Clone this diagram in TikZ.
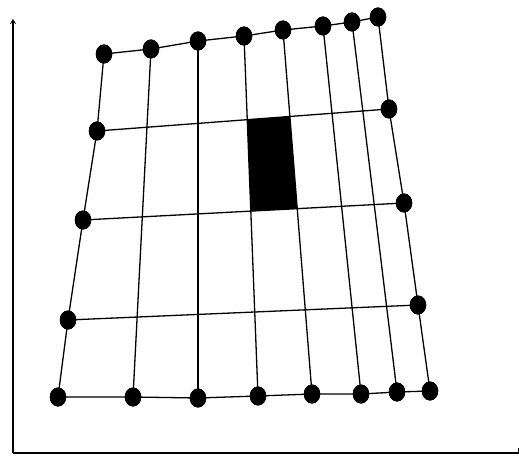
\documentclass[tikz,border=0pt]{standalone}
\usetikzlibrary{shapes.geometric,arrows.meta}
\begin{document}
\begin{tikzpicture}[x=1pt,y=-1pt,
  dot/.style={ellipse,fill=black,inner sep=0pt,minimum width=16.5pt,minimum height=19pt},
  gridline/.style={line width=1.3pt},
  axisline/.style={line width=2pt}]
\useasboundingbox (0,0) rectangle (519,457);
% axes
\coordinate (o) at (13,453);
\coordinate (ytop) at (13,19);
\coordinate (xend) at (518,453);
\draw[axisline,-{Stealth[length=5pt,width=6pt]}] (o) -- (ytop);
\draw[axisline] (o) -- (xend);
\draw[line width=1pt] (xend) ++(0,-5) -- ++(0,6);
% top row
\node[dot] (t1) at (104,54) {};
\node[dot] (t2) at (151,49) {};
\node[dot] (t3) at (198,41) {};
\node[dot] (t4) at (244,36) {};
\node[dot] (t5) at (283,30) {};
\node[dot] (t6) at (323,26) {};
\node[dot] (t7) at (352,22) {};
\node[dot] (t8) at (378,17) {};
% bottom row
\node[dot] (b1) at (58,397) {};
\node[dot] (b2) at (133,397) {};
\node[dot] (b3) at (198,398) {};
\node[dot] (b4) at (258,396) {};
\node[dot] (b5) at (312,394) {};
\node[dot] (b6) at (361,394) {};
\node[dot] (b7) at (397,392) {};
\node[dot] (b8) at (430,391) {};
% side dots
\node[dot] (l2) at (97,131) {};
\node[dot] (l3) at (83,220) {};
\node[dot] (l4) at (68,320) {};
\node[dot] (r2) at (389,109) {};
\node[dot] (r3) at (404,203) {};
\node[dot] (r4) at (418,305) {};
% filled cell
\fill (intersection of t4.center--b4.center and l2.center--r2.center)
   -- (intersection of t5.center--b5.center and l2.center--r2.center)
   -- (intersection of t5.center--b5.center and l3.center--r3.center)
   -- (intersection of t4.center--b4.center and l3.center--r3.center) -- cycle;
% grid lines
\begin{scope}[gridline]
\draw (t1.center) -- (l2.center) -- (l3.center) -- (l4.center) -- (b1.center);
\draw (t8.center) -- (r2.center) -- (r3.center) -- (r4.center) -- (b8.center);
\draw (t2.center) -- (b2.center);
\draw (t3.center) -- (b3.center);
\draw (t4.center) -- (b4.center);
\draw (t5.center) -- (b5.center);
\draw (t6.center) -- (b6.center);
\draw (t7.center) -- (b7.center);
\draw (t1.center) -- (t2.center) -- (t3.center) -- (t4.center) -- (t5.center) -- (t6.center) -- (t7.center) -- (t8.center);
\draw (b1.center) -- (b2.center) -- (b3.center) -- (b4.center) -- (b5.center) -- (b6.center) -- (b7.center) -- (b8.center);
\draw (l2.center) -- (r2.center);
\draw (l3.center) -- (r3.center);
\draw (l4.center) -- (r4.center);
\end{scope}
% redraw dots on top
\foreach \n in {t1,t2,t3,t4,t5,t6,t7,t8,b1,b2,b3,b4,b5,b6,b7,b8,l2,l3,l4,r2,r3,r4}
  \fill (\n.center) ellipse (8.25pt and 9.5pt);
\end{tikzpicture}
\end{document}
